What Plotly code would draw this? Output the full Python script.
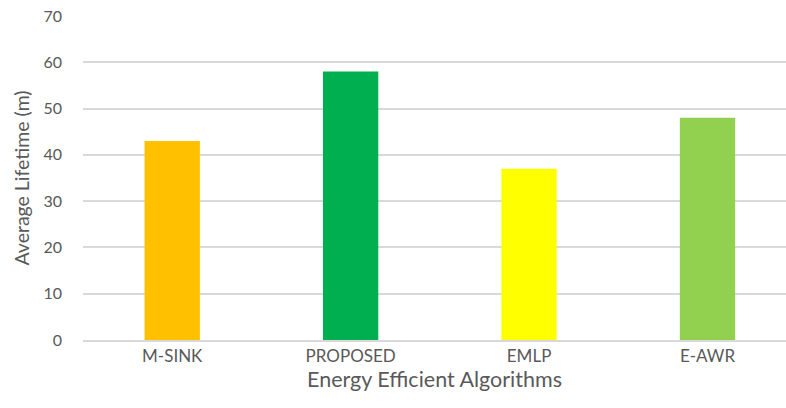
import plotly.graph_objects as go

# Average lifetime per algorithm
algorithms = ["M-SINK", "PROPOSED", "EMLP", "E-AWR"]
lifetimes = [43, 58, 37, 48]
bar_colors = ["#FFC000", "#00B050", "#FFFF00", "#92D050"]
y_ticks = [0, 10, 20, 30, 40, 50, 60, 70]

font_family = "Lato, 'Open Sans', sans-serif"
text_gray = "#595959"
grid_gray = "#D9D9D9"

fig = go.Figure(
    go.Bar(
        x=algorithms,
        y=lifetimes,
        marker=dict(color=bar_colors, line=dict(width=0)),
        width=0.31,
        hoverinfo="x+y",
    )
)

fig.update_layout(
    width=786,
    height=408,
    margin=dict(l=83, r=0, t=16, b=68),
    paper_bgcolor="white",
    plot_bgcolor="white",
    showlegend=False,
    font=dict(family=font_family, color=text_gray, size=16),
)

fig.update_xaxes(
    type="category",
    range=[-0.5, 3.44],
    showgrid=False,
    showline=True,
    linecolor=grid_gray,
    linewidth=1.5,
    ticks="",
    tickfont=dict(size=17, color=text_gray),
    title=dict(text="Energy Efficient Algorithms", font=dict(size=21.5, color=text_gray), standoff=5),
)

fig.update_yaxes(
    range=[0, 70],
    tickvals=y_ticks,
    showgrid=True,
    gridcolor=grid_gray,
    gridwidth=1.5,
    zeroline=False,
    showline=False,
    ticks="",
    ticklabelstandoff=20,
    tickfont=dict(size=16, color=text_gray),
    title=dict(text="Average Lifetime (m)", font=dict(size=19.5, color=text_gray), standoff=8),
)

fig.write_html("out.html")
